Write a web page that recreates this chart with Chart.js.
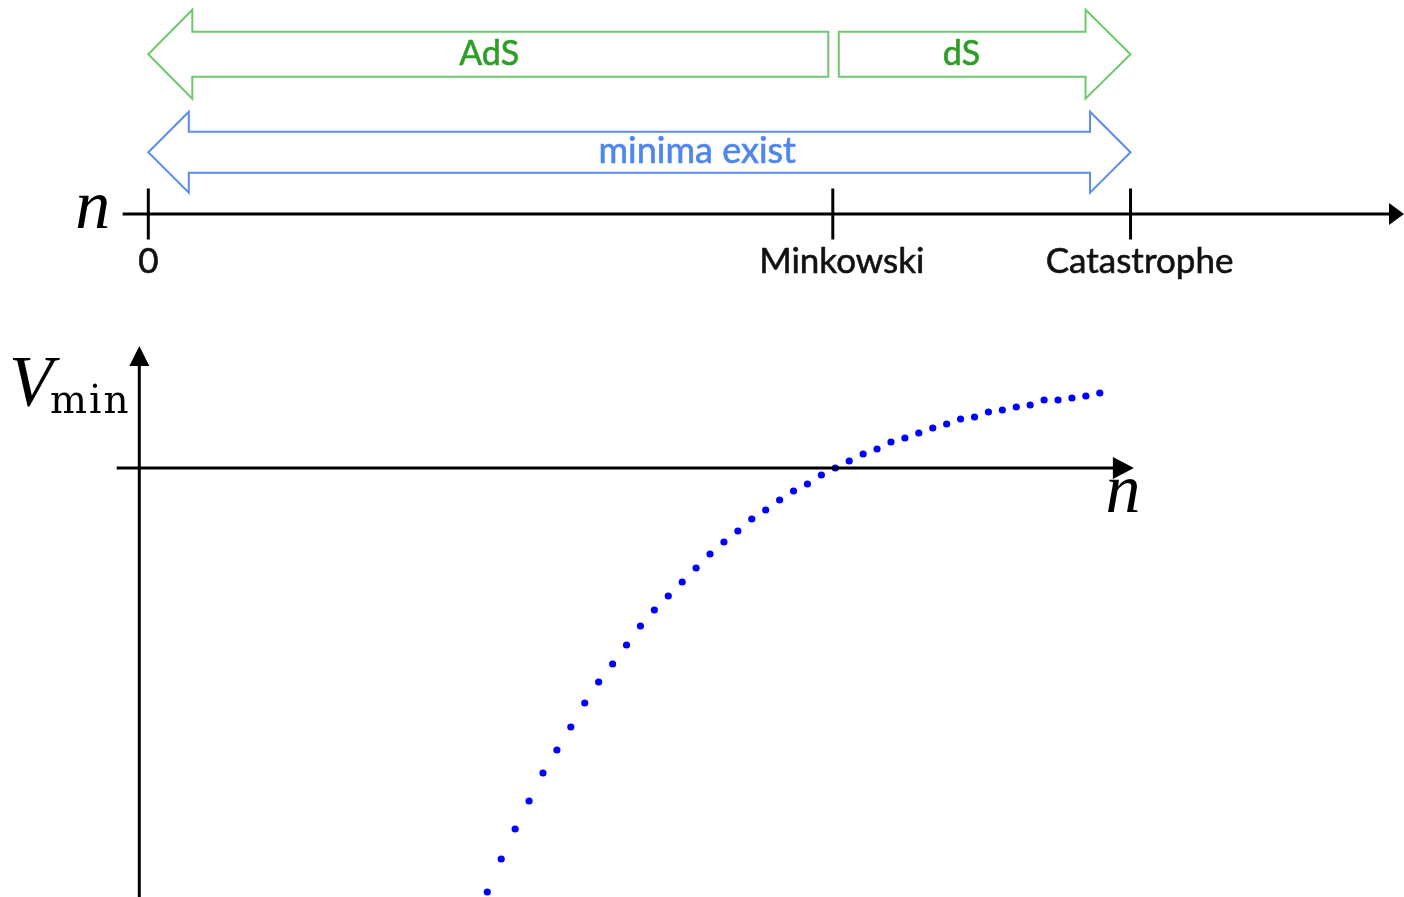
<!DOCTYPE html>
<html>
<head>
<meta charset="utf-8">
<script src="https://cdn.jsdelivr.net/npm/chart.js@4.4.1/dist/chart.umd.min.js"></script>
<style>
  html, body { margin: 0; padding: 0; background: #ffffff; overflow: hidden; }
  canvas { display: block; }
</style>
</head>
<body>
<canvas id="chart" width="1404" height="897"></canvas>
<script>
// Sampled values of n and the corresponding minimum of the potential
const nValues = [
  5.0, 5.2, 5.4, 5.6, 5.8, 6.0, 6.2, 6.4, 6.6, 6.8,
  7.0, 7.2, 7.4, 7.6, 7.8, 8.0, 8.2, 8.4, 8.6, 8.8,
  9.0, 9.2, 9.4, 9.6, 9.8, 10.0, 10.2, 10.4, 10.6, 10.8,
  11.0, 11.2, 11.4, 11.6, 11.8, 12.0, 12.2, 12.4, 12.6, 12.8,
  13.0, 13.2, 13.4, 13.6, 13.8
];
const vMinValues = [
  -4.24, -3.91, -3.61, -3.33, -3.05, -2.82, -2.59, -2.35, -2.14, -1.96,
  -1.77, -1.58, -1.42, -1.28, -1.14, -1.00, -0.86, -0.74, -0.63, -0.51,
  -0.42, -0.32, -0.23, -0.16, -0.07, 0.00, 0.07, 0.14, 0.19, 0.26,
  0.30, 0.35, 0.40, 0.44, 0.49, 0.51, 0.56, 0.58, 0.61, 0.63,
  0.68, 0.68, 0.70, 0.72, 0.75
];

// Marked points on the n line
const nLineTicks = [0, 10, 14.35];
const nLineLabels = ['0', 'Minkowski', 'Catastrophe'];

// Regime bands above the n line
const regimeLabels = ['AdS', 'dS', 'minima exist'];
const regimeLabelCenters = [4.98, 11.88, 8.02];

const GREEN_LINE = '#6cc96c';
const GREEN_TEXT = '#2e9e26';
const BLUE_LINE = '#5b8cf0';
const BLUE_TEXT = '#4f86ee';

function blockArrow(ctx, x0, x1, yc, shaftHalf, headHalf, headLen, leftHead, rightHead, color) {
  ctx.save();
  ctx.strokeStyle = color;
  ctx.lineWidth = 2;
  ctx.lineJoin = 'miter';
  ctx.beginPath();
  if (leftHead) {
    ctx.moveTo(x0, yc);
    ctx.lineTo(x0 + headLen, yc - headHalf);
    ctx.lineTo(x0 + headLen, yc - shaftHalf);
  } else {
    ctx.moveTo(x0, yc - shaftHalf);
  }
  if (rightHead) {
    ctx.lineTo(x1 - headLen, yc - shaftHalf);
    ctx.lineTo(x1 - headLen, yc - headHalf);
    ctx.lineTo(x1, yc);
    ctx.lineTo(x1 - headLen, yc + headHalf);
    ctx.lineTo(x1 - headLen, yc + shaftHalf);
  } else {
    ctx.lineTo(x1, yc - shaftHalf);
    ctx.lineTo(x1, yc + shaftHalf);
  }
  if (leftHead) {
    ctx.lineTo(x0 + headLen, yc + shaftHalf);
    ctx.lineTo(x0 + headLen, yc + headHalf);
  } else {
    ctx.lineTo(x0, yc + shaftHalf);
  }
  ctx.closePath();
  ctx.stroke();
  ctx.restore();
}

function arrowHead(ctx, tipX, tipY, dir, len, half) {
  ctx.beginPath();
  if (dir === 'right') {
    ctx.moveTo(tipX, tipY);
    ctx.lineTo(tipX - len, tipY - half);
    ctx.lineTo(tipX - len, tipY + half);
  } else {
    ctx.moveTo(tipX, tipY);
    ctx.lineTo(tipX - half, tipY + len);
    ctx.lineTo(tipX + half, tipY + len);
  }
  ctx.closePath();
  ctx.fill();
}

// Sans labels get a hairline stroke so they read a little heavier
function label(ctx, text, x, y, color) {
  ctx.fillStyle = color;
  ctx.strokeStyle = color;
  ctx.lineWidth = 0.6;
  ctx.fillText(text, x, y);
  ctx.strokeText(text, x, y);
}

const diagramPlugin = {
  id: 'diagram',
  afterDatasetsDraw(chart) {
    const ctx = chart.ctx;
    const xs = chart.scales.x;
    const ys = chart.scales.y;
    const xt = chart.scales.xTop;

    ctx.save();
    ctx.strokeStyle = '#000000';
    ctx.fillStyle = '#000000';
    ctx.lineWidth = 3;
    ctx.lineCap = 'butt';

    // ---- V_min versus n axes ----
    const x0 = xs.getPixelForValue(0);
    const y0 = ys.getPixelForValue(0);
    const yAxisTop = ys.getPixelForValue(1.22);
    ctx.beginPath();
    ctx.moveTo(x0, ys.getPixelForValue(ys.min));
    ctx.lineTo(x0, yAxisTop + 14);
    ctx.stroke();
    arrowHead(ctx, x0, yAxisTop, 'up', 20, 10);

    const xAxisRight = xs.getPixelForValue(14.29);
    ctx.beginPath();
    ctx.moveTo(xs.getPixelForValue(-0.325), y0);
    ctx.lineTo(xAxisRight - 14, y0);
    ctx.stroke();
    arrowHead(ctx, xAxisRight, y0, 'right', 21, 11);

    // axis titles
    ctx.font = 'italic 70px "Liberation Serif"';
    ctx.textAlign = 'center';
    ctx.textBaseline = 'alphabetic';
    ctx.fillText('n', xAxisRight - 11, y0 + 44);

    ctx.textAlign = 'left';
    ctx.font = 'italic 72px "Liberation Serif"';
    ctx.fillText('V', 9, 405);
    ctx.font = '39px "DejaVu Serif"';
    ctx.letterSpacing = '2px';
    ctx.fillText('min', 50, 413);
    ctx.letterSpacing = '0px';

    // ---- the n line ----
    const lineY = 214;
    const lineStart = xt.getPixelForValue(-0.375);
    const lineEnd = chart.width;
    ctx.beginPath();
    ctx.moveTo(lineStart, lineY);
    ctx.lineTo(lineEnd - 10, lineY);
    ctx.stroke();
    arrowHead(ctx, lineEnd, lineY, 'right', 15, 11);

    ctx.font = 'italic 70px "Liberation Serif"';
    ctx.textAlign = 'center';
    ctx.fillText('n', lineStart - 30, 228);

    ctx.font = '35px Lato';
    nLineTicks.forEach((t, i) => {
      const px = xt.getPixelForValue(t);
      ctx.strokeStyle = '#000000';
      ctx.lineWidth = 3;
      ctx.beginPath();
      ctx.moveTo(px, 188.5);
      ctx.lineTo(px, 239.5);
      ctx.stroke();
      const shift = nLineLabels[i].length > 1 ? 9 : 0;
      label(ctx, nLineLabels[i], px + shift, 273, '#111111');
    });

    // ---- regime arrows ----
    const pZero = xt.getPixelForValue(nLineTicks[0]);
    const pMink = xt.getPixelForValue(nLineTicks[1]);
    const pCat = xt.getPixelForValue(nLineTicks[2]);

    blockArrow(ctx, pZero, pMink - 4.5, 54.2, 22.5, 44.5, 44, true, false, GREEN_LINE);
    blockArrow(ctx, pMink + 6, pCat, 54.2, 22.5, 44.5, 45, false, true, GREEN_LINE);
    blockArrow(ctx, pZero, pCat, 152.2, 20.5, 40.5, 40.5, true, true, BLUE_LINE);

    ctx.textAlign = 'center';
    ctx.font = '34px Lato';
    label(ctx, regimeLabels[0], xt.getPixelForValue(regimeLabelCenters[0]), 65, GREEN_TEXT);
    label(ctx, regimeLabels[1], xt.getPixelForValue(regimeLabelCenters[1]), 65, GREEN_TEXT);
    ctx.font = '36px Lato';
    label(ctx, regimeLabels[2], xt.getPixelForValue(regimeLabelCenters[2]), 163, BLUE_TEXT);

    ctx.restore();
  }
};

const points = nValues.map((n, i) => ({ x: n, y: vMinValues[i] }));

new Chart(document.getElementById('chart'), {
  type: 'scatter',
  data: {
    datasets: [{
      label: 'V_min',
      data: points,
      pointRadius: 3.6,
      pointHoverRadius: 3.6,
      pointBackgroundColor: '#0000ff',
      pointBorderWidth: 0,
      showLine: false
    }]
  },
  options: {
    responsive: false,
    devicePixelRatio: 1,
    animation: false,
    events: [],
    layout: { padding: 0, autoPadding: false },
    plugins: { legend: { display: false }, tooltip: { enabled: false } },
    scales: {
      x: { type: 'linear', display: false, min: -2.0014, max: 18.171 },
      y: { type: 'linear', display: false, min: -4.29, max: 4.68 },
      xTop: { type: 'linear', axis: 'x', display: false, min: -2.1666, max: 18.345 }
    }
  },
  plugins: [diagramPlugin]
});
</script>
</body>
</html>
